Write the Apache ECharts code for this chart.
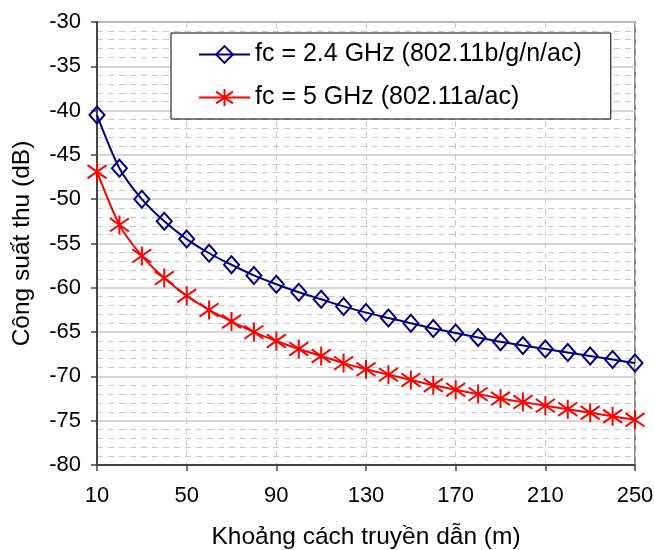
<!DOCTYPE html>
<html>
<head>
<meta charset="utf-8">
<script src="https://cdn.jsdelivr.net/npm/echarts@6/dist/echarts.min.js"></script>
<style>html,body{margin:0;padding:0;background:#fff}#c{width:654px;height:550px}</style>
</head>
<body>
<div id="c"></div>
<script>
const distances = [10,20,30,40,50,60,70,80,90,100,110,120,130,140,150,160,170,180,190,200,210,220,230,240,250];
const power24 = [-40.5,-46.5,-50.0,-52.5,-54.5,-56.1,-57.4,-58.6,-59.6,-60.5,-61.3,-62.1,-62.8,-63.4,-64.0,-64.6,-65.1,-65.6,-66.1,-66.5,-66.9,-67.3,-67.7,-68.1,-68.5];
const power5 = [-46.9,-52.9,-56.4,-58.9,-60.9,-62.5,-63.8,-65.0,-66.0,-66.9,-67.7,-68.5,-69.2,-69.8,-70.4,-71.0,-71.5,-72.0,-72.5,-72.9,-73.3,-73.7,-74.1,-74.5,-74.9];
const seriesNames = ['fc = 2.4 GHz (802.11b/g/n/ac)', 'fc = 5 GHz (802.11a/ac)'];
const xName = 'Khoảng cách truyền dẫn (m)';
const yName = 'Công suất thu (dB)';

const font = 'Liberation Sans, Arial, sans-serif';
const chart = echarts.init(document.getElementById('c'), null, {renderer: 'canvas'});
chart.setOption({
  animation: false,
  backgroundColor: '#fff',
  grid: {left: 97, right: 19, top: 22, bottom: 85, containLabel: false, outerBoundsMode: 'none',
    show: true, borderColor: '#888', borderWidth: 2, backgroundColor: 'transparent'},
  legend: {
    orient: 'vertical', left: 171, top: 33,
    backgroundColor: '#fff', borderColor: '#000', borderWidth: 1,
    padding: [9, 29, 9, 27], itemGap: 18, itemWidth: 51, itemHeight: 21,
    textStyle: {fontFamily: font, fontSize: 25, lineHeight: 25, color: '#000'},
    data: seriesNames
  },
  xAxis: {
    type: 'category', data: distances, boundaryGap: false,
    name: xName, nameLocation: 'middle', nameGap: 60,
    nameTextStyle: {fontFamily: font, fontSize: 24.5, color: '#000'},
    axisLine: {lineStyle: {color: '#444', width: 2}},
    axisTick: {show: true, interval: 3, length: 6, lineStyle: {color: '#444', width: 1.5}},
    axisLabel: {interval: 3, margin: 20, fontFamily: font, fontSize: 22, color: '#000'},
    splitLine: {show: true, interval: 3, lineStyle: {color: '#c8c8c8', type: [6, 5], width: 1}}
  },
  yAxis: {
    type: 'value', min: -80, max: -30, interval: 5,
    name: yName, nameLocation: 'middle', nameGap: 62, nameRotate: 90,
    nameTextStyle: {fontFamily: font, fontSize: 24.5, color: '#000'},
    axisLine: {show: true, lineStyle: {color: '#444', width: 2}},
    axisTick: {show: true, length: 6, lineStyle: {color: '#444', width: 1.5}},
    axisLabel: {margin: 16, fontFamily: font, fontSize: 22, color: '#000'},
    splitLine: {show: true, lineStyle: {color: '#c8c8c8', width: 1.5}},
    minorTick: {show: false, splitNumber: 5},
    minorSplitLine: {show: true, lineStyle: {color: '#c8c8c8', type: [6, 5], width: 1}}
  },
  series: [
    {
      name: seriesNames[0], type: 'line', data: power24, smooth: 0.25,
      symbol: 'diamond', symbolSize: [15, 17], showAllSymbol: true,
      lineStyle: {color: '#000080', width: 2},
      itemStyle: {color: 'rgba(255,255,255,0)', borderColor: '#000080', borderWidth: 2}
    },
    {
      name: seriesNames[1], type: 'line', data: power5, smooth: 0.25,
      symbol: 'path://M1,0L1,2M0.3,0.3L1.7,1.7M0.3,1.7L1.7,0.3', symbolSize: 19, showAllSymbol: true,
      lineStyle: {color: '#ff0000', width: 2},
      itemStyle: {color: 'rgba(255,0,0,0)', borderColor: '#ff0000', borderWidth: 2}
    }
  ]
});
</script>
</body>
</html>
